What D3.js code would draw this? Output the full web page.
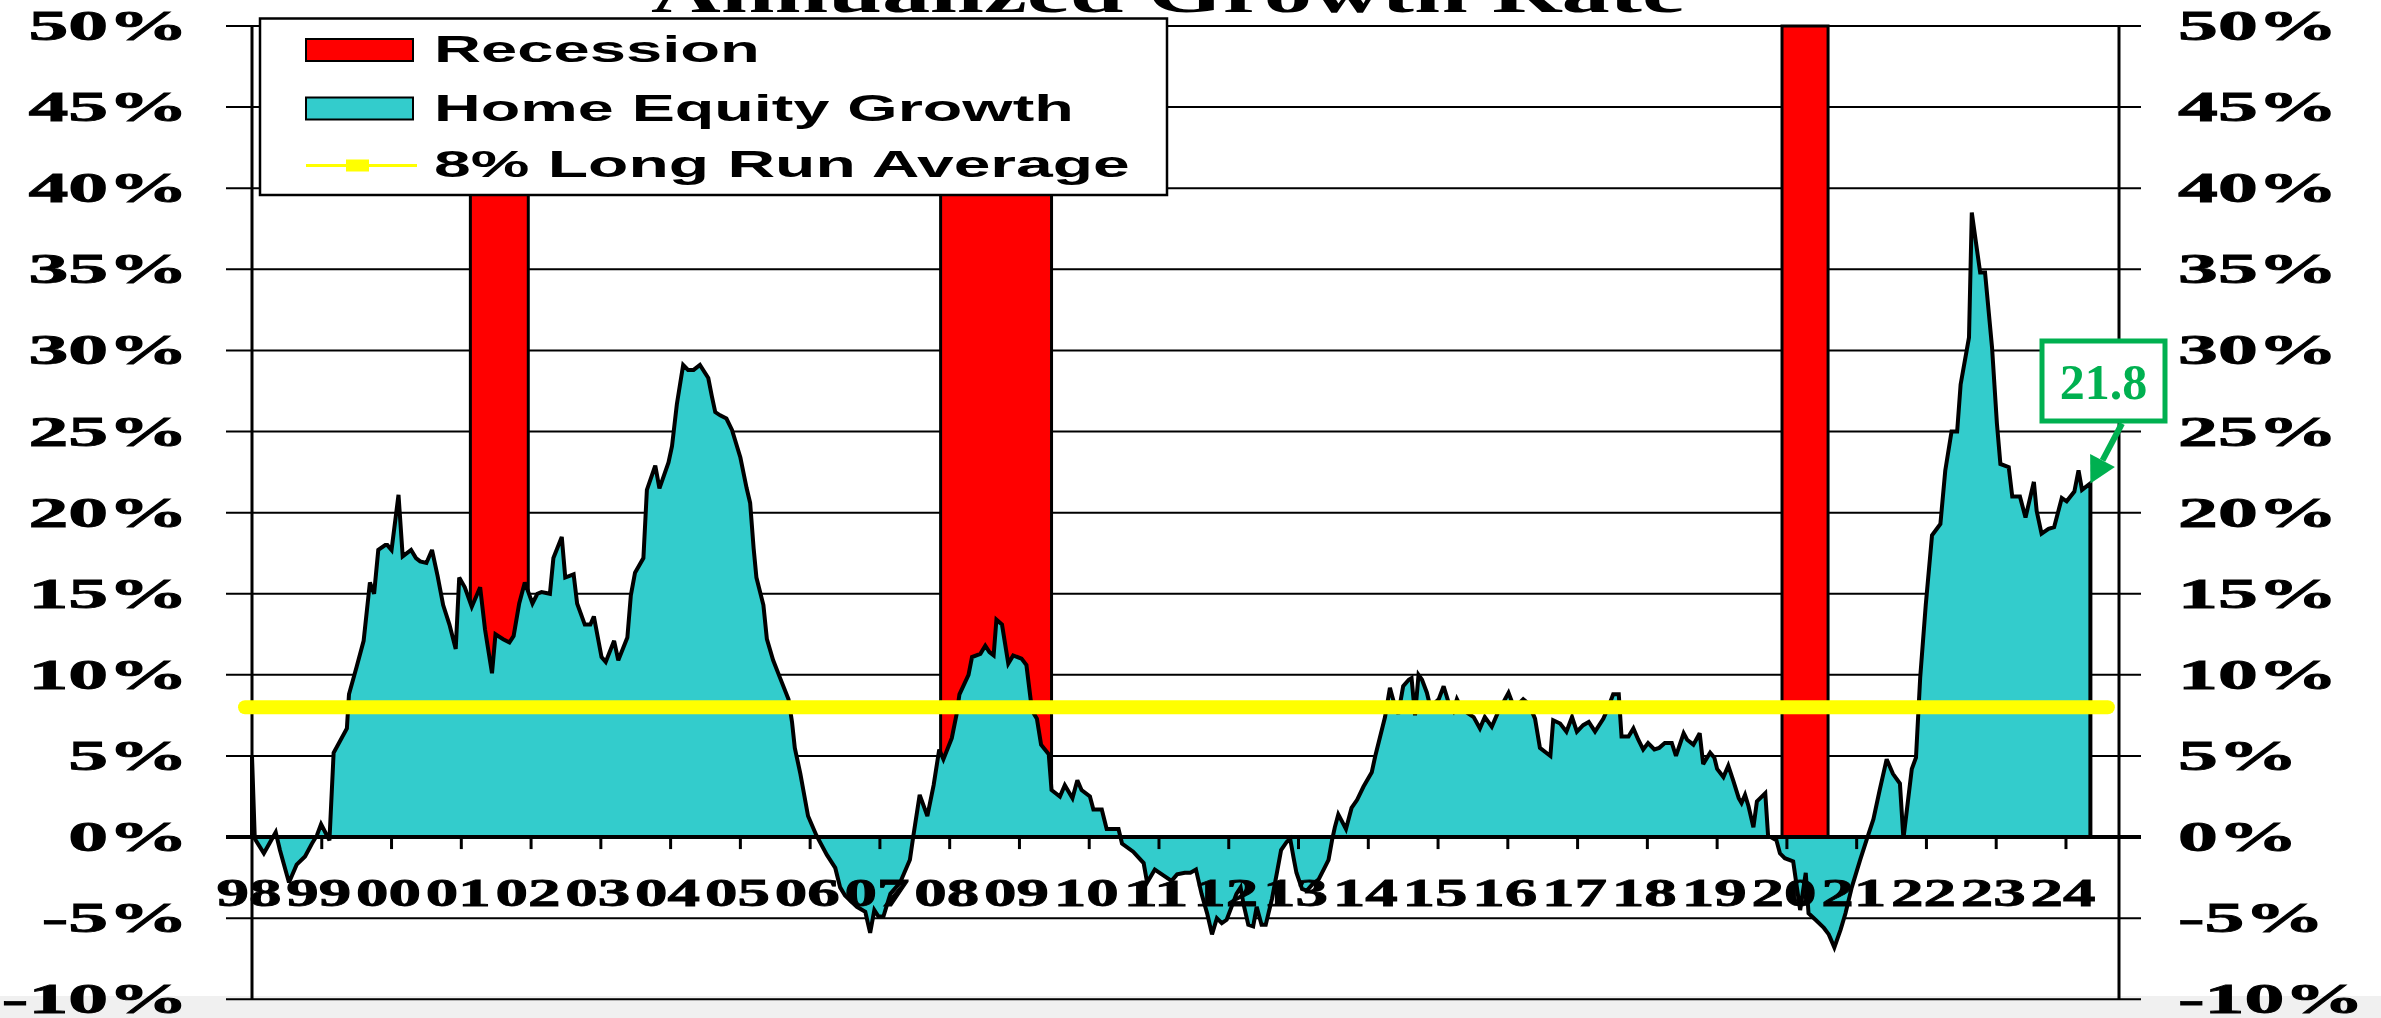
<!DOCTYPE html>
<html>
<head>
<meta charset="utf-8">
<script src="https://cdn.jsdelivr.net/npm/d3@7"></script>
<style>
  html, body { margin: 0; padding: 0; background: #ffffff; overflow: hidden; }
  svg { display: block; }
</style>
</head>
<body>
<svg id="chart" width="2381" height="1018"></svg>
<script>
// ---- Data: annualized home equity growth (%), dated in decimal years ----
const dates = [
  1998.00, 1998.04, 1998.17, 1998.34, 1998.40, 1998.53, 1998.64, 1998.76, 1998.86, 1998.93,
  1998.99, 1999.05, 1999.11, 1999.17, 1999.36, 1999.39, 1999.50, 1999.60, 1999.69, 1999.75,
  1999.81, 1999.91, 1999.94, 2000.00, 2000.10, 2000.16, 2000.28, 2000.35, 2000.41, 2000.50,
  2000.58, 2000.66, 2000.74, 2000.83, 2000.92, 2000.97, 2001.05, 2001.15, 2001.27, 2001.34,
  2001.44, 2001.49, 2001.60, 2001.69, 2001.75, 2001.83, 2001.91, 2002.02, 2002.09, 2002.15,
  2002.27, 2002.32, 2002.44, 2002.49, 2002.61, 2002.66, 2002.77, 2002.85, 2002.90, 2003.01,
  2003.07, 2003.19, 2003.25, 2003.38, 2003.43, 2003.49, 2003.61, 2003.66, 2003.78, 2003.84,
  2003.97, 2004.02, 2004.09, 2004.18, 2004.25, 2004.33, 2004.42, 2004.54, 2004.59, 2004.64,
  2004.71, 2004.80, 2004.88, 2005.00, 2005.09, 2005.14, 2005.19, 2005.23, 2005.33, 2005.38,
  2005.47, 2005.57, 2005.69, 2005.74, 2005.78, 2005.86, 2005.97, 2006.09, 2006.24, 2006.36,
  2006.43, 2006.50, 2006.67, 2006.79, 2006.86, 2006.92, 2006.98, 2007.05, 2007.15, 2007.29,
  2007.43, 2007.48, 2007.57, 2007.68, 2007.77, 2007.85, 2007.91, 2008.03, 2008.10, 2008.14,
  2008.27, 2008.32, 2008.44, 2008.51, 2008.57, 2008.63, 2008.67, 2008.75, 2008.84, 2008.91,
  2009.03, 2009.10, 2009.18, 2009.25, 2009.31, 2009.42, 2009.46, 2009.58, 2009.65, 2009.76,
  2009.83, 2009.89, 2010.01, 2010.06, 2010.18, 2010.25, 2010.42, 2010.47, 2010.63, 2010.78,
  2010.83, 2010.94, 2011.11, 2011.18, 2011.26, 2011.37, 2011.45, 2011.53, 2011.61, 2011.69,
  2011.76, 2011.83, 2011.90, 2011.97, 2012.04, 2012.11, 2012.17, 2012.21, 2012.28, 2012.35,
  2012.40, 2012.47, 2012.53, 2012.62, 2012.69, 2012.75, 2012.83, 2012.88, 2012.93, 2012.97,
  2013.05, 2013.12, 2013.20, 2013.29, 2013.36, 2013.43, 2013.48, 2013.52, 2013.57, 2013.68,
  2013.76, 2013.84, 2013.93, 2014.05, 2014.10, 2014.17, 2014.24, 2014.31, 2014.38, 2014.43,
  2014.50, 2014.58, 2014.62, 2014.67, 2014.72, 2014.77, 2014.84, 2014.89, 2015.01, 2015.08,
  2015.15, 2015.22, 2015.27, 2015.34, 2015.44, 2015.51, 2015.60, 2015.67, 2015.77, 2015.86,
  2015.96, 2016.01, 2016.08, 2016.15, 2016.22, 2016.30, 2016.39, 2016.46, 2016.61, 2016.65,
  2016.75, 2016.84, 2016.92, 2016.99, 2017.08, 2017.16, 2017.25, 2017.37, 2017.44, 2017.51,
  2017.59, 2017.63, 2017.73, 2017.80, 2017.87, 2017.94, 2018.01, 2018.10, 2018.17, 2018.25,
  2018.35, 2018.41, 2018.52, 2018.57, 2018.66, 2018.75, 2018.80, 2018.90, 2018.96, 2019.00,
  2019.09, 2019.16, 2019.23, 2019.31, 2019.35, 2019.40, 2019.45, 2019.52, 2019.57, 2019.69,
  2019.73, 2019.85, 2019.90, 2019.97, 2020.09, 2020.19, 2020.27, 2020.31, 2020.41, 2020.53,
  2020.60, 2020.68, 2020.77, 2020.84, 2020.93, 2021.05, 2021.14, 2021.24, 2021.33, 2021.43,
  2021.52, 2021.62, 2021.67, 2021.79, 2021.85, 2021.91, 2021.99, 2022.08, 2022.20, 2022.27,
  2022.36, 2022.44, 2022.49, 2022.61, 2022.65, 2022.77, 2022.84, 2022.94, 2023.01, 2023.06,
  2023.18, 2023.23, 2023.34, 2023.42, 2023.54, 2023.58, 2023.65, 2023.75, 2023.83, 2023.94,
  2024.01, 2024.12, 2024.18, 2024.23, 2024.35
];
const growth = [
   5.0, -0.1, -1.0,  0.3, -0.8, -2.8, -1.7, -1.2, -0.4,  0.1,
   0.8,  0.3, -0.2,  5.2,  6.7,  8.8, 10.5, 12.1, 15.7, 15.0,
  17.7, 18.0, 18.0, 17.7, 21.1, 17.3, 17.7, 17.2, 17.0, 16.9,
  17.7, 16.1, 14.3, 13.1, 11.6, 16.0, 15.4, 14.2, 15.4, 12.8,
  10.1, 12.5, 12.2, 12.0, 12.4, 14.4, 15.7, 14.4, 15.0, 15.1,
  15.0, 17.2, 18.5, 16.0, 16.2, 14.4, 13.1, 13.1, 13.6, 11.1,
  10.8, 12.1, 10.9, 12.3, 14.9, 16.3, 17.2, 21.4, 22.9, 21.5,
  23.1, 24.1, 26.7, 29.1, 28.8, 28.8, 29.1, 28.3, 27.2, 26.2,
  26.0, 25.8, 25.1, 23.4, 21.5, 20.6, 17.8, 16.0, 14.3, 12.2,
  10.9,  9.8,  8.5,  7.1,  5.5,  3.9,  1.3,  0.1, -1.1, -1.9,
  -3.1, -3.6, -4.3, -4.6, -5.9, -4.5, -4.9, -4.9, -3.5, -2.8,
  -1.4,  0.1,  2.6,  1.3,  3.2,  5.4,  4.8,  6.1,  7.6,  8.8,
  10.0, 11.1, 11.3, 11.8, 11.4, 11.2, 13.4, 13.1, 10.7, 11.2,
  11.0, 10.6,  7.8,  7.3,  5.7,  5.1,  2.9,  2.5,  3.2,  2.4,
   3.5,  2.9,  2.5,  1.7,  1.7,  0.5,  0.5, -0.4, -0.9, -1.6,
  -2.8, -2.0, -2.5, -2.7, -2.3, -2.2, -2.2, -2.0, -3.5, -4.7,
  -6.0, -5.0, -5.3, -5.1, -4.3, -3.5, -3.1, -4.1, -5.4, -5.5,
  -4.3, -5.4, -5.4, -3.8, -2.2, -0.8, -0.3, -0.1, -1.3, -2.2,
  -3.2, -3.3, -2.9, -2.6, -2.0, -1.4, -0.2,  0.6,  1.4,  0.5,
   1.8,  2.3,  3.1,  4.0,  5.0,  6.2,  7.4,  9.2,  8.1,  7.6,
   9.3,  9.7,  9.8,  7.5, 10.0,  9.7,  8.9,  8.0,  8.5,  9.3,
   8.3,  7.8,  8.5,  7.9,  7.6,  7.4,  6.7,  7.4,  6.8,  7.7,
   8.5,  8.9,  8.1,  8.2,  8.5,  8.2,  7.3,  5.5,  5.0,  7.2,
   7.0,  6.5,  7.4,  6.5,  6.9,  7.1,  6.5,  7.3,  8.0,  8.8,
   8.8,  6.2,  6.2,  6.7,  6.0,  5.4,  5.8,  5.4,  5.5,  5.8,
   5.8,  5.0,  6.4,  6.0,  5.7,  6.4,  4.5,  5.2,  4.9,  4.2,
   3.7,  4.4,  3.5,  2.4,  2.1,  2.6,  1.9,  0.6,  2.2,  2.7,
   0.1, -0.2, -1.0, -1.3, -1.5, -4.5, -2.2, -4.7, -5.1, -5.6,
  -6.0, -6.8, -5.7, -4.7, -3.1, -1.4, -0.2,  1.1,  2.9,  4.8,
   3.9,  3.3, -0.1,  4.2,  4.9,  9.8, 14.3, 18.6, 19.3, 22.6,
  25.0, 25.0, 27.9, 30.8, 38.5, 34.8, 34.8, 30.2, 25.5, 23.0,
  22.8, 21.0, 21.0, 19.7, 21.9, 20.1, 18.7, 19.0, 19.1, 20.9,
  20.7, 21.3, 22.6, 21.4, 21.8
];

// Recession periods (decimal years)
const recessionStart = [2001.13, 2007.87, 2019.93];
const recessionEnd   = [2001.96, 2009.46, 2020.59];

// Long run average reference line
const averageLevel = 8;
const averageSpan = [1997.9, 2024.6];

// Axis ticks and labels
const yTickValues = [-10, -5, 0, 5, 10, 15, 20, 25, 30, 35, 40, 45, 50];
const xTickYears = d3.range(1998, 2025);
const xTickLabels = xTickYears.map(yr => String(yr % 100).padStart(2, "0"));

const titleText = "Annualized Growth Rate";
const legendLabels = ["Recession", "Home Equity Growth", "8% Long Run Average"];
const calloutText = "21.8";

// ---- Layout ----
const W = 2381, H = 1018;
const plot = { left: 252, right: 2119, top: 26, bottom: 999.3 };

const x = d3.scaleLinear().domain([1998, 2024.76]).range([plot.left, plot.right]);
const y = d3.scaleLinear().domain([-10, 50]).range([plot.bottom, plot.top]);

const COLORS = {
  area: "#33CCCC",
  recession: "#FF0000",
  average: "#FFFF00",
  callout: "#00B050",
  ink: "#000000"
};

const serif = "'Liberation Serif', 'Times New Roman', serif";
const sans = "'Liberation Sans', Arial, sans-serif";

const svg = d3.select("#chart");

// Background with the light band along the bottom edge
svg.append("rect").attr("width", W).attr("height", H).attr("fill", "#ffffff");
svg.append("rect").attr("x", 0).attr("y", 996).attr("width", W).attr("height", H - 996).attr("fill", "#f0f0f0");

// Text drawn with horizontally widened glyphs: either to a target width or by a factor
function wideText(parent, o) {
  const g = parent.append("g");
  const t = g.append("text")
    .attr("x", 0).attr("y", 0)
    .attr("text-anchor", o.anchor || "start")
    .attr("font-family", o.family)
    .attr("font-weight", "bold")
    .attr("font-size", o.size)
    .attr("fill", o.fill || COLORS.ink)
    .attr("stroke", o.weight ? (o.fill || COLORS.ink) : null)
    .attr("stroke-width", o.weight || null)
    .text(o.text);
  const w = t.node().getComputedTextLength();
  const sx = o.width ? o.width / w : (o.factor || 1);
  g.attr("transform", `translate(${o.x},${o.y}) scale(${sx},1)`);
  return g;
}

// ---- Horizontal grid lines with outer tick marks on both sides ----
svg.append("g")
  .selectAll("line")
  .data(yTickValues.filter(v => v !== 0))
  .join("line")
  .attr("x1", plot.left - 26)
  .attr("x2", plot.right + 22)
  .attr("y1", d => y(d))
  .attr("y2", d => y(d))
  .attr("stroke", COLORS.ink)
  .attr("stroke-width", 2);

// ---- Recession bars ----
svg.append("g")
  .selectAll("rect")
  .data(recessionStart.map((s, i) => ({ s, e: recessionEnd[i] })))
  .join("rect")
  .attr("x", d => x(d.s))
  .attr("width", d => x(d.e) - x(d.s))
  .attr("y", y(50))
  .attr("height", y(0) - y(50))
  .attr("fill", COLORS.recession)
  .attr("stroke", COLORS.ink)
  .attr("stroke-width", 3);

// ---- Home equity growth area ----
const series = dates.map((d, i) => ({ t: d, v: growth[i] }));
const area = d3.area()
  .x(d => x(d.t))
  .y0(y(0))
  .y1(d => y(d.v));

svg.append("path")
  .datum(series)
  .attr("d", area)
  .attr("fill", COLORS.area)
  .attr("stroke", COLORS.ink)
  .attr("stroke-width", 4)
  .attr("stroke-linejoin", "miter")
  .attr("stroke-miterlimit", 3);

// ---- Zero line and year ticks ----
svg.append("line")
  .attr("x1", plot.left - 26).attr("x2", plot.right + 22)
  .attr("y1", y(0)).attr("y2", y(0))
  .attr("stroke", COLORS.ink).attr("stroke-width", 4);

svg.append("g")
  .selectAll("line")
  .data(xTickYears.slice(1))
  .join("line")
  .attr("x1", d => x(d)).attr("x2", d => x(d))
  .attr("y1", y(0)).attr("y2", y(0) + 12)
  .attr("stroke", COLORS.ink).attr("stroke-width", 3);

// ---- Vertical axis lines ----
[plot.left, plot.right].forEach(px => {
  svg.append("line")
    .attr("x1", px).attr("x2", px)
    .attr("y1", y(50)).attr("y2", y(-10))
    .attr("stroke", COLORS.ink).attr("stroke-width", 3);
});

// ---- Long run average line ----
svg.append("line")
  .attr("x1", x(averageSpan[0])).attr("x2", x(averageSpan[1]))
  .attr("y1", y(averageLevel)).attr("y2", y(averageLevel))
  .attr("stroke", COLORS.average)
  .attr("stroke-width", 14)
  .attr("stroke-linecap", "round");

// ---- Axis labels ----
const labelLayer = svg.append("g");
yTickValues.forEach(v => {
  wideText(labelLayer, { x: 188, y: y(v) + 14, anchor: "end", family: serif, size: 42, factor: 1.9, weight: 0.8, text: v + "%" });
  wideText(labelLayer, { x: 2178, y: y(v) + 14, anchor: "start", family: serif, size: 42, factor: 1.9, weight: 0.8, text: v + "%" });
});
xTickYears.forEach((yr, i) => {
  wideText(labelLayer, { x: x(yr) - 3, y: 905.5, anchor: "middle", family: serif, size: 39, width: 65, weight: 0.8, text: xTickLabels[i] });
});

// ---- Title (runs off the top edge) ----
wideText(svg, { x: 1168, y: 12, anchor: "middle", family: serif, size: 58, width: 1034, text: titleText });

// ---- Legend ----
const legend = svg.append("g");
legend.append("rect")
  .attr("x", 260).attr("y", 18.5)
  .attr("width", 907).attr("height", 176.5)
  .attr("fill", "#ffffff")
  .attr("stroke", COLORS.ink).attr("stroke-width", 2.5);

legend.append("rect")
  .attr("x", 306).attr("y", 39).attr("width", 107).attr("height", 22)
  .attr("fill", COLORS.recession).attr("stroke", COLORS.ink).attr("stroke-width", 2);
legend.append("rect")
  .attr("x", 306).attr("y", 97.5).attr("width", 107).attr("height", 22)
  .attr("fill", COLORS.area).attr("stroke", COLORS.ink).attr("stroke-width", 2);
legend.append("line")
  .attr("x1", 306).attr("x2", 417).attr("y1", 165.5).attr("y2", 165.5)
  .attr("stroke", COLORS.average).attr("stroke-width", 3);
legend.append("rect")
  .attr("x", 346).attr("y", 159.5).attr("width", 23).attr("height", 12)
  .attr("fill", COLORS.average);

const legendBaselines = [62, 121, 176.5];
const legendWidths = [326, 640, 696];
legendLabels.forEach((label, i) => {
  wideText(legend, { x: 434, y: legendBaselines[i], anchor: "start", family: sans, size: 36.5, width: legendWidths[i], text: label });
});

// ---- Callout for the latest value ----
const last = series[series.length - 1];
const callout = svg.append("g");
callout.append("rect")
  .attr("x", 2042).attr("y", 341)
  .attr("width", 123).attr("height", 80)
  .attr("fill", "#ffffff")
  .attr("stroke", COLORS.callout).attr("stroke-width", 5);
callout.append("text")
  .attr("x", 2103.5).attr("y", 399)
  .attr("text-anchor", "middle")
  .attr("font-family", serif)
  .attr("font-weight", "bold")
  .attr("font-size", 50)
  .attr("fill", COLORS.callout)
  .text(calloutText);

// Arrow from the box to the last data point
const tail = [2122, 423.5];
const tip = [x(last.t), y(last.v)];
const ang = Math.atan2(tip[1] - tail[1], tip[0] - tail[0]);
const headLen = 26, headHalf = 14;
const base = [tip[0] - headLen * Math.cos(ang), tip[1] - headLen * Math.sin(ang)];
callout.append("line")
  .attr("x1", tail[0]).attr("y1", tail[1])
  .attr("x2", base[0]).attr("y2", base[1])
  .attr("stroke", COLORS.callout).attr("stroke-width", 6);
callout.append("path")
  .attr("d", d3.line()([
    tip,
    [base[0] + headHalf * Math.sin(ang), base[1] - headHalf * Math.cos(ang)],
    [base[0] - headHalf * Math.sin(ang), base[1] + headHalf * Math.cos(ang)]
  ]) + "Z")
  .attr("fill", COLORS.callout);
</script>
</body>
</html>
